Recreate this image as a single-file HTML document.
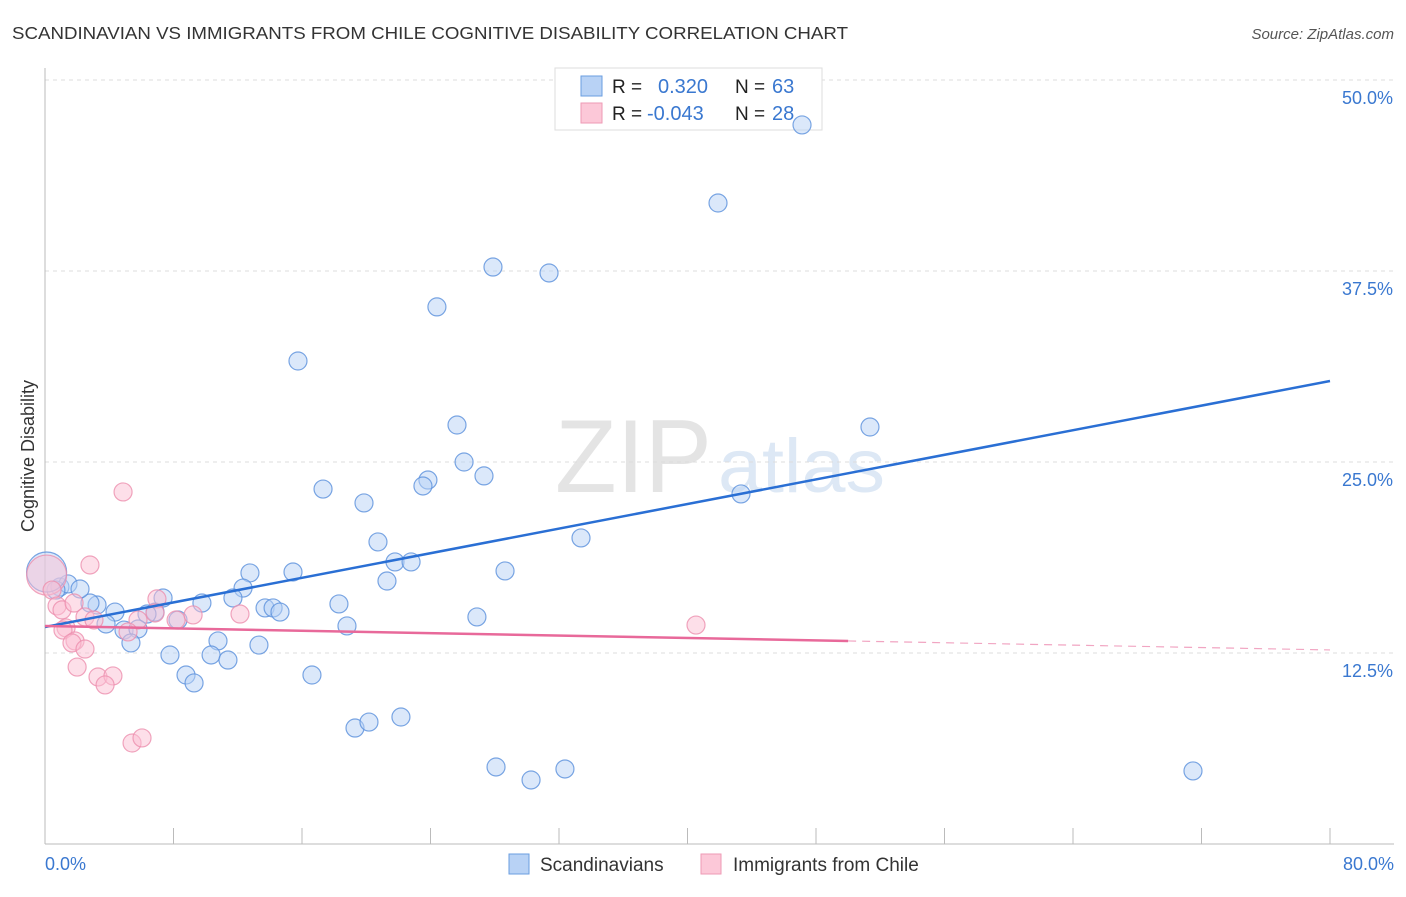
<!DOCTYPE html>
<html><head><meta charset="utf-8"><style>
body{margin:0;background:#fff;font-family:"Liberation Sans",sans-serif}
svg text{font-family:"Liberation Sans",sans-serif}
</style></head><body>
<svg id="c" width="1406" height="892" xmlns="http://www.w3.org/2000/svg">
<text x="12" y="39" font-size="17.5" fill="#333" textLength="836" lengthAdjust="spacingAndGlyphs">SCANDINAVIAN VS IMMIGRANTS FROM CHILE COGNITIVE DISABILITY CORRELATION CHART</text>
<text x="1394" y="39" font-size="15" fill="#555" font-style="italic" text-anchor="end">Source: ZipAtlas.com</text>
<text x="555" y="492" font-size="104" fill="#e4e4e4" textLength="157" lengthAdjust="spacingAndGlyphs" font-family="Liberation Serif">ZIP</text>
<text x="718" y="492" font-size="76" fill="#dde8f5" textLength="167" lengthAdjust="spacingAndGlyphs">atlas</text>
<g id="grid"></g><g id="axes"></g>
<g>
<rect x="555" y="68" width="267" height="62" fill="#fff" stroke="#ddd"/>
<rect x="581" y="76" width="21" height="20" fill="#b8d2f5" stroke="#6a9ee0"/>
<rect x="581" y="103" width="21" height="20" fill="#fcc8d8" stroke="#ee9ab5"/>
<text x="612" y="93" font-size="19" fill="#222">R = </text><text x="658" y="93" font-size="20" fill="#3a78d0">0.320</text>
<text x="735" y="93" font-size="19" fill="#222">N = </text><text x="772" y="93" font-size="20" fill="#3a78d0">63</text>
<text x="612" y="120" font-size="19" fill="#222">R = </text><text x="647" y="120" font-size="20" fill="#3a78d0">-0.043</text>
<text x="735" y="120" font-size="19" fill="#222">N = </text><text x="772" y="120" font-size="20" fill="#3a78d0">28</text>
</g>
<g id="pts"></g><g id="lines"></g>
<text transform="translate(34,456) rotate(-90)" font-size="18" fill="#333" text-anchor="middle">Cognitive Disability</text>
<g>
<rect x="509" y="854" width="20" height="20" fill="#b8d2f5" stroke="#6a9ee0"/>
<text x="540" y="871" font-size="19" fill="#333">Scandinavians</text>
<rect x="701" y="854" width="20" height="20" fill="#fcc8d8" stroke="#ee9ab5"/>
<text x="733" y="871" font-size="19" fill="#333">Immigrants from Chile</text>
</g>
</svg>
<script>
const blueX=[47.13,41.9,27.89,31.38,24.4,15.75,25.65,51.36,26.09,27.33,23.84,23.53,17.31,43.33,19.86,20.73,33.37,21.79,22.79,28.64,21.29,15.44,12.76,12.33,11.7,7.35,9.77,18.3,13.7,14.2,14.63,6.85,6.35,8.28,26.89,18.8,4.36,3.24,2.8,0.93,1.43,2.18,0.68,3.8,4.92,5.79,5.35,10.77,13.32,7.78,10.34,11.39,8.78,9.28,16.62,19.3,20.17,22.16,28.08,30.26,32.37,71.47,0.1];
const blueY=[47.06,41.95,37.76,37.37,35.15,31.61,27.42,27.29,25.0,24.09,23.82,23.43,23.23,22.91,22.32,19.77,20.03,18.46,18.46,17.87,17.21,17.8,17.74,16.75,16.1,16.1,15.77,15.71,15.45,15.45,15.18,15.18,15.05,14.66,14.86,14.27,15.18,15.64,15.77,16.82,17.02,16.69,16.62,14.4,14.0,14.07,13.16,13.29,13.02,12.37,12.37,12.04,11.06,10.54,11.06,7.59,7.98,8.31,5.04,4.19,4.91,4.78,17.8];
const pinkX=[4.86,2.8,0.1,0.44,0.75,1.06,1.81,2.49,3.05,1.31,1.12,1.87,1.68,2.49,2.0,3.3,4.23,3.74,5.42,6.04,6.97,6.85,8.16,9.22,12.14,40.53,5.79,5.17];
const pinkY=[23.04,18.26,17.6,16.62,15.58,15.32,15.77,14.86,14.66,14.14,14.0,13.29,13.16,12.76,11.58,10.93,11.0,10.41,6.61,6.94,16.04,15.12,14.66,14.99,15.05,14.33,14.66,13.88];
const blueTrend=[14.2,30.3];
const pinkTrend=[14.27,12.7];
const yTicks=[12.5,25,37.5,50];
const xTickLabels=["0.0%","80.0%"];
const X=v=>45+v/80*1285, Y=v=>844-v/12.5*191;
const NS="http://www.w3.org/2000/svg";
function mk(p,t,a){const e=document.createElementNS(NS,t);for(const k in a)e.setAttribute(k,a[k]);p.appendChild(e);return e;}
const grid=document.getElementById('grid'),axes=document.getElementById('axes'),pts=document.getElementById('pts'),lines=document.getElementById('lines');
yTicks.forEach(t=>{
 const l=mk(grid,'line',{x1:45,x2:1394,y1:Y(t),y2:Y(t),stroke:'#ddd','stroke-dasharray':'4,4'});
 
 
 const tx=mk(grid,'text',{x:1393,y:Y(t)+24,'font-size':18,fill:'#3a78d0','text-anchor':'end'});
 tx.textContent=t.toFixed(1)+'%';
 
 
});
const ax=mk(axes,'line',{x1:45,x2:1394,y1:844,y2:844,stroke:'#bbb'});


const ay=mk(axes,'line',{x1:45,x2:45,y1:68,y2:844,stroke:'#bbb'});


for(let i=1;i<=10;i++){const x=X(i*8);const t=mk(axes,'line',{x1:x,x2:x,y1:828,y2:844,stroke:'#bbb'});
 
 }
[[0,'start',45],[80,'end',1394]].forEach((d,i)=>{const t=mk(axes,'text',{x:d[2],y:870,'font-size':18,fill:'#3a78d0','text-anchor':d[1]});t.textContent=xTickLabels[i];
 
 });
function dots(xs,ys,fill,stroke,name){xs.forEach((v,i)=>{const big=v<0.2;
 const c=mk(pts,'circle',{cx:X(v),cy:Y(ys[i]),r:big?20:9,fill:fill,'fill-opacity':0.5,stroke:stroke,'stroke-width':1.2,'stroke-opacity':0.8});
 
 });}
dots(blueX,blueY,'#b8d2f5','#5a90dc','scandinavian-point');
dots(pinkX,pinkY,'#fcc0d3','#ec8fae','chile-point');
const bl=mk(lines,'line',{x1:X(0),y1:Y(blueTrend[0]),x2:X(80),y2:Y(blueTrend[1]),stroke:'#2a6fd4','stroke-width':2.5});


const pm=v=>pinkTrend[0]+(pinkTrend[1]-pinkTrend[0])*v/80;
const pl=mk(lines,'line',{x1:X(0),y1:Y(pm(0)),x2:X(50),y2:Y(pm(50)),stroke:'#e8699a','stroke-width':2.5});


const pd=mk(lines,'line',{x1:X(50),y1:Y(pm(50)),x2:X(80),y2:Y(pm(80)),stroke:'#e8699a','stroke-width':1.2,'stroke-dasharray':'8,6','stroke-opacity':0.6});


</script>
</body></html>
